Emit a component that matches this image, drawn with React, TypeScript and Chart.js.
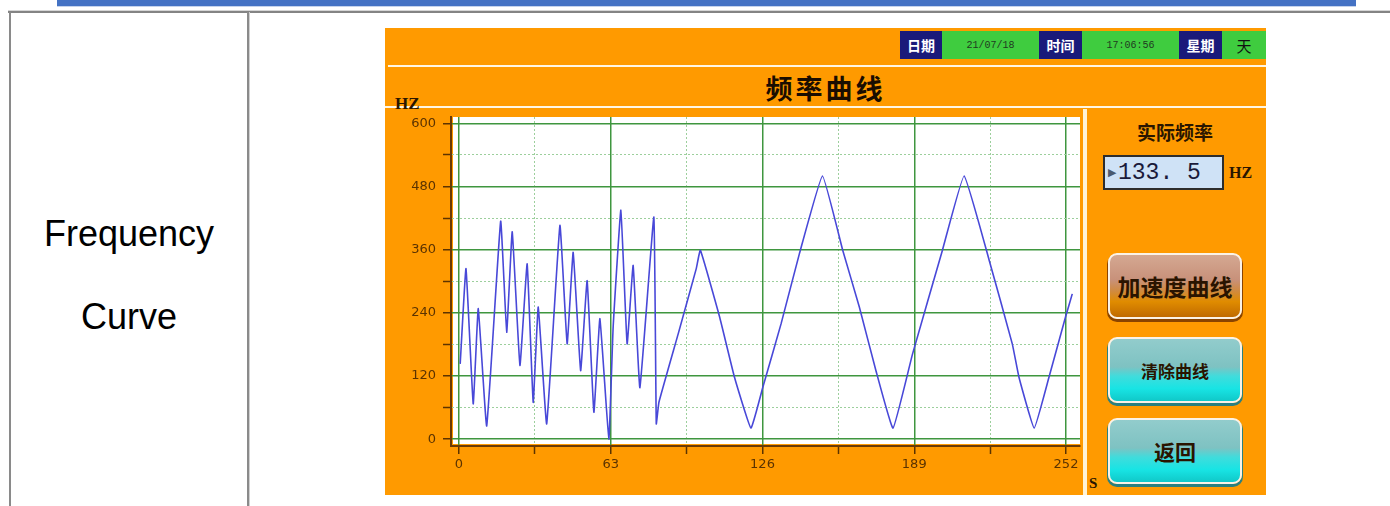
import React, { useEffect, useRef } from "react";
import { Chart, registerables } from "chart.js";

Chart.register(...registerables);

// ---- data ----
const timeSeconds = [
  0.5, 2.9, 5.9, 8.0, 11.5, 17.3, 19.8, 22.1, 25.3, 28.3, 30.8, 32.9, 36.4, 41.9, 44.9,
  47.4, 50.5, 53.2, 56.0, 58.5, 62.2, 64.0, 67.2, 69.8, 72.3, 75.1, 80.9, 81.9, 83.0,
  91.0, 98.5, 100.2, 108.2, 114.4, 121.2, 126.1, 133.7, 141.3, 150.9, 159.3, 166.2, 173.1,
  180.2, 188.3, 200.7, 209.7, 220.1, 229.7, 232.5, 238.8, 244.9, 251.8, 254.6,
];
const frequencyHz = [
  143, 324, 67, 248, 25, 414, 203, 394, 140, 333, 70, 251, 29, 406, 181,
  355, 130, 301, 51, 229, 0, 213, 435, 181, 330, 98, 422, 29, 70,
  200, 324, 359, 232, 117, 21, 98, 219, 352, 500, 359, 251, 130,
  21, 162, 359, 500, 340, 181, 117, 21, 117, 232, 276,
];
const xTicks = [0, 31.5, 63, 94.5, 126, 157.5, 189, 220.5, 252];
const yTicks = [0, 60, 120, 180, 240, 300, 360, 420, 480, 540, 600];
const xLabelStep = 63;
const yLabelStep = 120;

const statusDate = "21/07/18";
const statusTime = "17:06:56";
const statusWeekday = "天";
const actualFrequency = "133. 5";

const SERIF = "'Liberation Serif', 'Noto Sans CJK SC', serif";
const BROWN = "#5b3300";

const plotBackground = {
  id: "plotBackground",
  beforeDraw(chart: any) {
    const { ctx, chartArea } = chart;
    const { left, top, right, bottom } = chartArea;
    ctx.save();
    ctx.fillStyle = "#ffffff";
    ctx.fillRect(left + 2, top, right - left - 2, bottom - top - 2);
    ctx.restore();
  },
};

function isMajor(ctx: any, step: number) {
  return ctx && ctx.tick && Math.abs(ctx.tick.value % step) < 1e-6;
}

function FrequencyChart() {
  const ref = useRef<HTMLCanvasElement | null>(null);
  useEffect(() => {
    if (!ref.current) return;
    const points = timeSeconds.map((t, i) => ({ x: t, y: frequencyHz[i] }));
    const chart = new Chart(ref.current, {
      type: "line",
      data: {
        datasets: [
          {
            label: "频率",
            data: points,
            borderColor: "#4848d8",
            borderWidth: 1.6,
            pointRadius: 0,
            fill: false,
            tension: 0.1,
          },
        ],
      },
      plugins: [plotBackground],
      options: {
        animation: false,
        responsive: false,
        devicePixelRatio: 1,
        layout: { autoPadding: false, padding: { top: 4, right: 3, left: 0, bottom: 0 } },
        plugins: { legend: { display: false }, tooltip: { enabled: false } },
        scales: {
          x: {
            type: "linear",
            min: -3.32,
            max: 257.81,
            afterFit: (s: any) => {
              s.height = 49;
              s.paddingLeft = 0;
              s.paddingRight = 0;
            },
            afterBuildTicks: (s: any) => {
              s.ticks = xTicks.map((v) => ({ value: v }));
            },
            ticks: {
              autoSkip: false,
              maxRotation: 0,
              padding: 3,
              color: BROWN,
              font: { family: "'DejaVu Sans', sans-serif", size: 13 },
              callback: (v: any) => (Math.abs(Number(v) % xLabelStep) < 1e-6 ? String(v) : ""),
            },
            grid: {
              color: (c: any) => (isMajor(c, xLabelStep) ? "#3f963f" : "#9ccf9c"),
              lineWidth: (c: any) => (isMajor(c, xLabelStep) ? 1.5 : 1),
              tickColor: BROWN,
              tickLength: 8,
              tickWidth: 1.5,
            },
            border: {
              display: true,
              color: "#6b3a05",
              width: 2,
              dash: (c: any) => (c && c.tick && !isMajor(c, xLabelStep) ? [2, 2] : []),
            },
          },
          y: {
            type: "linear",
            min: -13,
            max: 612,
            afterFit: (s: any) => {
              s.width = 66;
              s.paddingTop = 0;
              s.paddingBottom = 0;
            },
            afterBuildTicks: (s: any) => {
              s.ticks = yTicks.map((v) => ({ value: v }));
            },
            ticks: {
              autoSkip: false,
              padding: 7,
              color: BROWN,
              font: { family: "'DejaVu Sans', sans-serif", size: 13 },
              callback: (v: any) => (Math.abs(Number(v) % yLabelStep) < 1e-6 ? String(v) : ""),
            },
            grid: {
              color: (c: any) => (isMajor(c, yLabelStep) ? "#3f963f" : "#9ccf9c"),
              lineWidth: (c: any) => (isMajor(c, yLabelStep) ? 1.5 : 1),
              tickColor: BROWN,
              tickLength: 8,
              tickWidth: 1.5,
            },
            border: {
              display: true,
              color: "#6b3a05",
              width: 2,
              dash: (c: any) => (c && c.tick && !isMajor(c, yLabelStep) ? [2, 2] : []),
            },
          },
        },
      } as any,
    });
    return () => chart.destroy();
  }, []);
  return (
    <canvas
      ref={ref}
      width={698}
      height={382}
      style={{ position: "absolute", left: 385, top: 113, width: 698, height: 382 }}
    />
  );
}

const abs = (l: number, t: number, w: number, h: number, extra: React.CSSProperties = {}): React.CSSProperties => ({
  position: "absolute",
  left: l,
  top: t,
  width: w,
  height: h,
  ...extra,
});

const centerBox: React.CSSProperties = {
  display: "flex",
  alignItems: "center",
  justifyContent: "center",
  boxSizing: "border-box",
};

function Button({ top, label, size, warm }: { top: number; label: string; size: number; warm?: boolean }) {
  const bg = warm
    ? "linear-gradient(180deg, #d4a892 0%, #c8917a 40%, #d08a40 58%, #e08c00 75%, #c06a00 100%)"
    : "linear-gradient(180deg, #92cccc 0%, #7ec2c2 45%, #40dcdc 60%, #18e4e4 80%, #10c8c8 100%)";
  return (
    <div
      style={abs(1108, top, 134, 66, {
        ...centerBox,
        background: bg,
        border: "2px solid #fbf2e6",
        borderRadius: 9,
        boxShadow: warm ? "0 2px 0 1px #8a4400" : "0 2px 0 1px #2a8080",
        fontFamily: SERIF,
        fontWeight: 700,
        fontSize: size,
        color: "#2a1400",
      })}
    >
      {label}
    </div>
  );
}

export default function App() {
  return (
    <div
      style={{
        position: "absolute",
        left: 0,
        top: 0,
        width: 1390,
        height: 506,
        background: "#ffffff",
        overflow: "hidden",
      }}
    >
      {/* top blue band */}
      <div style={abs(57, 0, 1299, 6, { background: "#4472c4" })} />
      <div style={abs(57, 6, 1299, 1, { background: "#c5d3ec" })} />
      {/* table borders */}
      <div style={abs(8, 10, 1382, 1, { background: "#d6d6d6" })} />
      <div style={abs(8, 11, 1382, 2, { background: "#848484" })} />
      <div style={abs(9, 12, 2, 494, { background: "#8a8a8a" })} />
      <div style={abs(247, 12, 2, 494, { background: "#8a8a8a" })} />
      <div style={abs(249, 12, 1, 494, { background: "#d0d0d0" })} />

      <div
        style={abs(10, 216, 238, 36, {
          fontFamily: "'Liberation Sans', Arial, sans-serif",
          fontSize: 36,
          lineHeight: "36px",
          textAlign: "center",
          color: "#000",
        })}
      >
        Frequency
      </div>
      <div
        style={abs(10, 299, 238, 36, {
          fontFamily: "'Liberation Sans', Arial, sans-serif",
          fontSize: 36,
          lineHeight: "36px",
          textAlign: "center",
          color: "#000",
        })}
      >
        Curve
      </div>

      {/* HMI panel */}
      <div style={abs(385, 28, 881, 467, { background: "#ff9a00" })} />
      {/* status bar */}
      <div style={abs(900, 31, 42, 28, { ...centerBox, background: "#1a1a7a", color: "#fff", fontFamily: SERIF, fontSize: 14, fontWeight: 700 })}>日期</div>
      <div style={abs(942, 31, 97, 28, { ...centerBox, background: "#3fcc3f", color: "#1f3a1f", fontFamily: "'Liberation Mono', monospace", fontSize: 10 })}>{statusDate}</div>
      <div style={abs(1039, 31, 43, 28, { ...centerBox, background: "#1a1a7a", color: "#fff", fontFamily: SERIF, fontSize: 14, fontWeight: 700 })}>时间</div>
      <div style={abs(1082, 31, 97, 28, { ...centerBox, background: "#3fcc3f", color: "#1f3a1f", fontFamily: "'Liberation Mono', monospace", fontSize: 10 })}>{statusTime}</div>
      <div style={abs(1179, 31, 43, 28, { ...centerBox, background: "#1a1a7a", color: "#fff", fontFamily: SERIF, fontSize: 14, fontWeight: 700 })}>星期</div>
      <div style={abs(1222, 31, 44, 28, { ...centerBox, background: "#3fcc3f", color: "#111", fontFamily: SERIF, fontSize: 15 })}>{statusWeekday}</div>

      {/* separators */}
      <div style={abs(388, 65, 878, 2, { background: "#fff6e4" })} />
      <div style={abs(385, 106, 881, 2, { background: "#fff6e4" })} />

      {/* title */}
      <div
        style={abs(385, 68, 881, 38, {
          ...centerBox,
          fontFamily: SERIF,
          fontWeight: 700,
          fontSize: 27,
          letterSpacing: 3,
          color: "#1a0d00",
        })}
      >
        频率曲线
      </div>
      <div style={abs(395, 95, 40, 18, { fontFamily: SERIF, fontWeight: 700, fontSize: 17, lineHeight: "18px", color: "#2a1600" })}>HZ</div>

      {/* right panel divider */}
      <div style={abs(1083, 109, 4, 386, { background: "#fff3d6" })} />

      <FrequencyChart />

      <div style={abs(1089, 474, 14, 18, { fontFamily: SERIF, fontWeight: 700, fontSize: 15, lineHeight: "18px", color: "#2a1600" })}>S</div>

      {/* right panel */}
      <div style={abs(1090, 118, 170, 26, { ...centerBox, fontFamily: SERIF, fontWeight: 700, fontSize: 19, color: "#2a1600" })}>实际频率</div>
      <div
        style={abs(1103, 155, 121, 35, {
          boxSizing: "border-box",
          background: "#cfe2f6",
          border: "2px solid #2d2d2d",
          display: "flex",
          alignItems: "center",
          paddingLeft: 3,
        })}
      >
        <span style={{ color: "#4a5a70", fontSize: 11, marginRight: 2 }}>▶</span>
        <span style={{ fontFamily: "'Liberation Mono', monospace", fontSize: 23, color: "#1a1a3a" }}>{actualFrequency}</span>
      </div>
      <div style={abs(1229, 163, 34, 20, { fontFamily: SERIF, fontWeight: 700, fontSize: 16, lineHeight: "20px", color: "#2a1600" })}>HZ</div>

      <Button top={253} label="加速度曲线" size={23} warm />
      <Button top={337} label="清除曲线" size={17} />
      <Button top={418} label="返回" size={21} />
    </div>
  );
}
